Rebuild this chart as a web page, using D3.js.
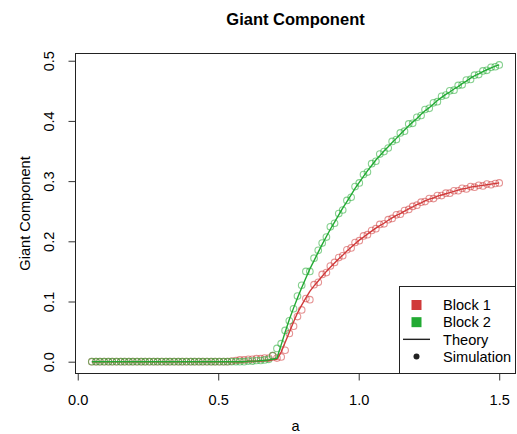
<!DOCTYPE html>
<html lang="en">
<head>
    <meta charset="UTF-8">
    <title>Giant Component</title>
    <style>
        body {
            margin: 0;
            padding: 0;
            background: #ffffff;
            font-family: "Liberation Sans", Arial, sans-serif;
        }
        #chart text {
            fill: #000;
        }
    </style>
    <script src="https://d3js.org/d3.v7.min.js"></script>
</head>
<body>
    <div id="chart"></div>

    <script>
        // a values (x grid, 100 points from 0.05 to 1.5)
        const aValues = [
            0.050, 0.065, 0.079, 0.094, 0.109, 0.123, 0.138, 0.153, 0.167, 0.182,
            0.196, 0.211, 0.226, 0.240, 0.255, 0.270, 0.284, 0.299, 0.314, 0.328,
            0.343, 0.358, 0.372, 0.387, 0.402, 0.416, 0.431, 0.445, 0.460, 0.475,
            0.489, 0.504, 0.519, 0.533, 0.548, 0.563, 0.577, 0.592, 0.607, 0.621,
            0.636, 0.651, 0.665, 0.680, 0.694, 0.709, 0.724, 0.738, 0.753, 0.768,
            0.782, 0.797, 0.812, 0.826, 0.841, 0.856, 0.870, 0.885, 0.899, 0.914,
            0.929, 0.943, 0.958, 0.973, 0.987, 1.002, 1.017, 1.031, 1.046, 1.061,
            1.075, 1.090, 1.105, 1.119, 1.134, 1.148, 1.163, 1.178, 1.192, 1.207,
            1.222, 1.236, 1.251, 1.266, 1.280, 1.295, 1.310, 1.324, 1.339, 1.354,
            1.368, 1.383, 1.398, 1.412, 1.427, 1.442, 1.456, 1.471, 1.486, 1.500
        ];

        // theory curves
        const block1Theory = [
            0, 0, 0, 0, 0, 0, 0, 0, 0, 0,
            0, 0, 0, 0, 0, 0, 0, 0, 0, 0,
            0, 0, 0, 0, 0, 0, 0, 0, 0, 0,
            0, 0, 0, 0, 0, 0, 0, 0, 0.001, 0.001,
            0.001, 0.001, 0.002, 0.002, 0.003, 0.004, 0.016, 0.032, 0.049, 0.066,
            0.081, 0.094, 0.106, 0.117, 0.126, 0.134, 0.142, 0.150, 0.157, 0.164,
            0.171, 0.177, 0.184, 0.190, 0.196, 0.202, 0.207, 0.212, 0.217, 0.222,
            0.226, 0.230, 0.235, 0.239, 0.243, 0.246, 0.250, 0.254, 0.257, 0.261,
            0.264, 0.267, 0.270, 0.272, 0.275, 0.277, 0.279, 0.281, 0.283, 0.285,
            0.287, 0.288, 0.290, 0.291, 0.292, 0.293, 0.294, 0.295, 0.296, 0.297
        ];
        const block2Theory = [
            0, 0, 0, 0, 0, 0, 0, 0, 0, 0,
            0, 0, 0, 0, 0, 0, 0, 0, 0, 0,
            0, 0, 0, 0, 0, 0, 0, 0, 0, 0,
            0, 0, 0, 0, 0, 0, 0, 0, 0.001, 0.001,
            0.001, 0.002, 0.002, 0.003, 0.004, 0.006, 0.028, 0.049, 0.070, 0.089,
            0.106, 0.123, 0.139, 0.154, 0.168, 0.182, 0.195, 0.208, 0.220, 0.232,
            0.244, 0.255, 0.266, 0.277, 0.288, 0.298, 0.308, 0.317, 0.326, 0.335,
            0.342, 0.350, 0.357, 0.364, 0.371, 0.378, 0.385, 0.392, 0.398, 0.404,
            0.411, 0.417, 0.422, 0.428, 0.434, 0.439, 0.444, 0.448, 0.453, 0.457,
            0.462, 0.466, 0.471, 0.475, 0.478, 0.482, 0.485, 0.488, 0.491, 0.493
        ];

        // simulation results
        const block1Sim = [
            0, 0, 0, 0, 0, 0, 0, 0, 0, 0,
            0, 0, 0, 0, 0, 0, 0, 0, 0, 0,
            0, 0, 0, 0, 0, 0, 0, 0, 0, 0,
            0, 0, 0, 0, 0.001, 0.002, 0.003, 0.003, 0.004, 0.004,
            0.005, 0.005, 0.006, 0.006, 0.010, 0.006, 0.008, 0.019, 0.047, 0.059,
            0.075, 0.086, 0.105, 0.103, 0.128, 0.132, 0.145, 0.148, 0.159, 0.165,
            0.173, 0.176, 0.186, 0.189, 0.198, 0.201, 0.209, 0.211, 0.218, 0.221,
            0.228, 0.229, 0.236, 0.238, 0.244, 0.245, 0.251, 0.253, 0.258, 0.260,
            0.265, 0.266, 0.271, 0.271, 0.276, 0.276, 0.280, 0.280, 0.284, 0.284,
            0.288, 0.287, 0.291, 0.290, 0.293, 0.292, 0.295, 0.294, 0.296, 0.297
        ];
        const block2Sim = [
            0, 0, 0, 0, 0, 0, 0, 0, 0, 0,
            0, 0, 0, 0, 0, 0, 0, 0, 0, 0,
            0, 0, 0, 0, 0, 0, 0, 0, 0, 0,
            0, 0, 0, 0, 0, 0, 0, 0, 0.001, 0.001,
            0.002, 0.002, 0.003, 0.004, 0.010, 0.022, 0.030, 0.052, 0.068, 0.088,
            0.109, 0.127, 0.150, 0.150, 0.172, 0.185, 0.197, 0.207, 0.224, 0.230,
            0.246, 0.252, 0.268, 0.273, 0.291, 0.297, 0.311, 0.315, 0.329, 0.333,
            0.345, 0.349, 0.355, 0.366, 0.369, 0.380, 0.383, 0.395, 0.396, 0.406,
            0.409, 0.419, 0.421, 0.430, 0.432, 0.441, 0.443, 0.450, 0.451, 0.459,
            0.460, 0.468, 0.469, 0.476, 0.477, 0.483, 0.484, 0.489, 0.490, 0.493
        ];

        const xTicks = [0, 0.5, 1.0, 1.5];
        const yTicks = [0, 0.1, 0.2, 0.3, 0.4, 0.5];
        const legendLabels = ["Block 1", "Block 2", "Theory", "Simulation"];

        const red = "#d03a3a";
        const green = "#22aa33";

        const width = 517;
        const height = 434;
        const plot = { left: 75.5, right: 515.5, top: 53.5, bottom: 373.5 };

        const svg = d3.select("#chart")
            .append("svg")
            .attr("width", width)
            .attr("height", height)
            .style("display", "block");

        const x = d3.scaleLinear()
            .domain([-0.008, 1.558])
            .range([plot.left, plot.right]);

        const y = d3.scaleLinear()
            .domain([-0.0196, 0.512])
            .range([plot.bottom, plot.top]);

        // title
        svg.append("text")
            .attr("x", (plot.left + plot.right) / 2)
            .attr("y", 25)
            .attr("text-anchor", "middle")
            .style("font-size", "16.5px")
            .style("font-weight", "bold")
            .text("Giant Component");

        // axes
        const xAxis = svg.append("g")
            .attr("transform", `translate(0,${plot.bottom})`)
            .call(d3.axisBottom(x).tickValues(xTicks).tickSize(7).tickFormat(d3.format(".1f")));
        xAxis.select(".domain").remove();
        xAxis.selectAll("line").attr("stroke", "#333");
        xAxis.selectAll("text")
            .attr("y", 31)
            .attr("dy", 0)
            .style("font-size", "14.6px")
            .style("font-family", "Liberation Sans, Arial, sans-serif");

        const yAxis = svg.append("g")
            .attr("transform", `translate(${plot.left},0)`)
            .call(d3.axisLeft(y).tickValues(yTicks).tickSize(7).tickFormat(d3.format(".1f")));
        yAxis.select(".domain").remove();
        yAxis.selectAll("line").attr("stroke", "#333");
        yAxis.selectAll("text")
            .attr("x", 0)
            .attr("y", -22)
            .attr("dy", 0)
            .attr("text-anchor", "middle")
            .attr("transform", "rotate(-90)")
            .style("font-size", "14.6px")
            .style("font-family", "Liberation Sans, Arial, sans-serif");

        // axis titles
        svg.append("text")
            .attr("x", (plot.left + plot.right) / 2)
            .attr("y", 430.5)
            .attr("text-anchor", "middle")
            .style("font-size", "14.6px")
            .text("a");

        svg.append("text")
            .attr("transform", `translate(30,${(plot.top + plot.bottom) / 2}) rotate(-90)`)
            .attr("text-anchor", "middle")
            .style("font-size", "14.6px")
            .text("Giant Component");

        // simulation points
        const series = [
            { sim: block1Sim, theory: block1Theory, color: red },
            { sim: block2Sim, theory: block2Theory, color: green }
        ];

        series.forEach(s => {
            svg.append("g")
                .selectAll("circle")
                .data(s.sim)
                .join("circle")
                .attr("cx", (d, i) => x(aValues[i]))
                .attr("cy", d => y(d))
                .attr("r", 3.3)
                .attr("fill", "none")
                .attr("stroke", s.color)
                .attr("stroke-opacity", 0.55)
                .attr("stroke-width", 1.1);
        });

        // theory lines
        const line = d3.line()
            .x((d, i) => x(aValues[i]))
            .y(d => y(d));

        series.forEach(s => {
            svg.append("path")
                .datum(s.theory)
                .attr("d", line)
                .attr("fill", "none")
                .attr("stroke", s.color)
                .attr("stroke-width", 1.4);
        });

        // plot box
        svg.append("rect")
            .attr("x", plot.left)
            .attr("y", plot.top)
            .attr("width", plot.right - plot.left)
            .attr("height", plot.bottom - plot.top)
            .attr("fill", "none")
            .attr("stroke", "#222")
            .attr("stroke-width", 1);

        // legend
        const legend = svg.append("g");
        legend.append("rect")
            .attr("x", 399.5)
            .attr("y", 286.5)
            .attr("width", plot.right - 399.5)
            .attr("height", plot.bottom - 286.5)
            .attr("fill", "#fff")
            .attr("stroke", "#222")
            .attr("stroke-width", 1);

        const rowY = d3.scalePoint()
            .domain(legendLabels)
            .range([305, 356.5]);

        legend.append("rect")
            .attr("x", 411.5).attr("y", rowY("Block 1") - 5)
            .attr("width", 10).attr("height", 10)
            .attr("fill", red);
        legend.append("rect")
            .attr("x", 411.5).attr("y", rowY("Block 2") - 5)
            .attr("width", 10).attr("height", 10)
            .attr("fill", green);
        legend.append("line")
            .attr("x1", 403).attr("x2", 430)
            .attr("y1", rowY("Theory")).attr("y2", rowY("Theory"))
            .attr("stroke", "#222")
            .attr("stroke-width", 1.4);
        legend.append("circle")
            .attr("cx", 416.5).attr("cy", rowY("Simulation"))
            .attr("r", 3)
            .attr("fill", "#222");

        legend.selectAll("text.lab")
            .data(legendLabels)
            .join("text")
            .attr("class", "lab")
            .attr("x", 443)
            .attr("y", d => rowY(d))
            .attr("dy", "0.36em")
            .style("font-size", "14.6px")
            .text(d => d);
    </script>
</body>
</html>
